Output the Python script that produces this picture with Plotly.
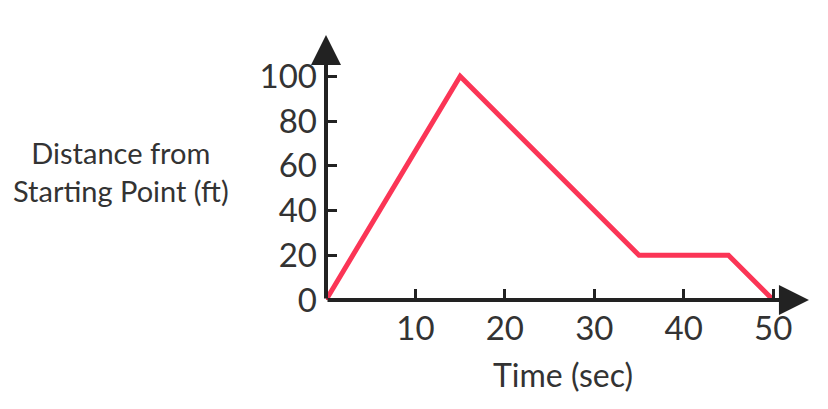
import plotly.graph_objects as go

time_sec = [0, 15, 35, 45, 50]
distance_ft = [0, 100, 20, 20, 0]

x_ticks = [10, 20, 30, 40, 50]
y_ticks = [0, 20, 40, 60, 80, 100]

axis_color = "#222222"
text_color = "#333333"
font_name = "Lato"

# plot area in figure pixels (page adds an 8px body margin)
left, right, top, bottom = 318, 792, 37, 292

fig = go.Figure()
fig.add_trace(go.Scatter(
    x=time_sec, y=distance_ft, mode="lines",
    line=dict(color="#fb3556", width=5),
    cliponaxis=False, showlegend=False,
))

# axis lines with arrow heads
for tip in [(54.0, 0), (0, 118.5)]:
    fig.add_annotation(x=tip[0], y=tip[1], ax=0, ay=0, xref="x", yref="y",
                       axref="x", ayref="y", text="", showarrow=True,
                       arrowhead=2, arrowsize=1.5, arrowwidth=4,
                       arrowcolor=axis_color)

# left label, not rotated
fig.add_annotation(x=(113 - left) / (right - left), y=(bottom - 163) / (bottom - top),
                   xref="x domain", yref="y domain", xanchor="center", yanchor="middle",
                   showarrow=False, text="Distance from<br>Starting Point (ft)",
                   font=dict(family=font_name, size=29, color=text_color))

fig.update_layout(
    width=828, height=409,
    margin=dict(l=left, r=828 - right, t=top, b=409 - bottom),
    paper_bgcolor="white", plot_bgcolor="white",
    font=dict(family=font_name, size=31, color=text_color),
)
fig.update_xaxes(
    range=[0, 53], showgrid=False, zeroline=False, showline=False, automargin=False,
    tickvals=x_ticks, ticks="inside", ticklen=11, tickwidth=3, tickcolor=axis_color,
    tickfont=dict(size=33), ticklabelstandoff=6,
    title=dict(text="Time (sec)", standoff=18, font=dict(size=32)),
)
fig.update_yaxes(
    range=[0, 114], showgrid=False, zeroline=False, showline=False, automargin=False,
    tickvals=y_ticks, ticks="inside", ticklen=11, tickwidth=3, tickcolor=axis_color,
    tickfont=dict(size=33), ticklabelstandoff=8,
)

fig.write_html("out.html")
